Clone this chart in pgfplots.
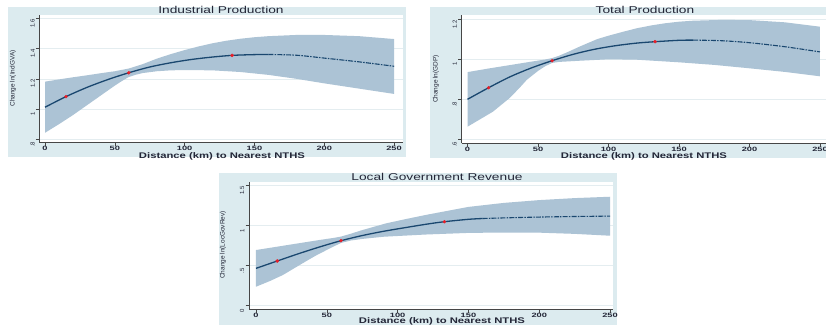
\documentclass[border=0pt]{standalone}
\usepackage{pgfplots}
\pgfplotsset{compat=1.18}
\usepackage{fontspec}
\setmainfont{Liberation Sans}
\newfontfamily\tickxfont{Liberation Sans}[FakeStretch=1.5]
\newfontfamily\titlefont{Liberation Sans}[FakeStretch=1.38]
\definecolor{bgc}{RGB}{220,235,239}
\definecolor{bandc}{RGB}{172,195,213}
\definecolor{navyc}{RGB}{26,71,111}
\definecolor{redc}{RGB}{232,30,40}
\definecolor{gridc}{RGB}{228,237,240}
\definecolor{axc}{RGB}{70,70,70}
\definecolor{txtc}{RGB}{35,38,55}
\pgfplotsset{
  statapanel/.style={
    scale only axis,
    anchor=south west,
    axis x line*=bottom, axis y line*=left,
    axis line style={axc, line width=0.8bp},
    tick align=outside,
    major tick length=3.5bp,
    tick style={axc, line width=0.6bp},
    xtick={0,50,100,150,200,250},
    xticklabels={0,50,100,150,200,250},
    xticklabel style={font=\tickxfont\fontsize{6.2}{6.5}\selectfont\bfseries, text=txtc, inner sep=0.3bp},
    yticklabel style={rotate=90, anchor=south, font=\fontsize{6}{7}\selectfont, text=txtc, inner sep=1bp, xshift=-5bp},
    minor tick num=0,
    ymajorgrids,
    grid style={gridc, line width=0.6bp},
    axis background/.style={fill=white},
  },
  bandplot/.style={fill=bandc, draw=none, forget plot},
  fitline/.style={navyc, line width=1.3bp, smooth, no markers},
  fitdash/.style={navyc, line width=1.1bp, smooth, no markers, dash pattern=on 5bp off 1.2bp on 1.5bp off 1.2bp},
  reddots/.style={only marks, mark=*, mark size=1.5bp, mark options={fill=redc, draw=redc}, redc},
}
\begin{document}
\begin{tikzpicture}
\path[use as bounding box] (0bp,-325bp) rectangle (826bp,0bp);
% backgrounds
\fill[bgc] (8bp,-157bp) rectangle (406bp,-7bp);
\fill[bgc] (430bp,-158bp) rectangle (840bp,-7bp);
\fill[bgc] (219bp,-330bp) rectangle (617bp,-173bp);

% ---------- Panel 1 ----------
\begin{axis}[statapanel,
  at={(39.5bp,-142bp)}, width=363.5bp, height=127bp,
  xmin=-3.94, xmax=256.4, ymin=0.782, ymax=1.622,
  ytick={0.8,1,1.2,1.4,1.6}, yticklabels={.8,1,1.2,1.4,1.6}]
\addplot[bandplot] coordinates {(0,1.181)(10,1.196)(20,1.21)(30,1.223)(40,1.237)(50,1.25)(60,1.268)(70,1.297)(80,1.333)(90,1.363)(100,1.39)(110,1.414)(120,1.435)(130,1.452)(140,1.465)(150,1.475)(160,1.482)(180,1.49)(200,1.49)(225,1.482)(250,1.463)
 (250,1.10)(225,1.135)(200,1.17)(180,1.20)(160,1.226)(140,1.245)(120,1.256)(100,1.258)(90,1.256)(80,1.25)(70,1.238)(65,1.227)(60,1.212)(55,1.185)(50,1.155)(40,1.09)(30,1.025)(20,0.96)(10,0.90)(0,0.843)} -- cycle;
\addplot[fitline] coordinates {(0,1.012)(15,1.082)(30,1.143)(45,1.195)(60,1.24)(75,1.278)(90,1.306)(105,1.328)(120,1.344)(134,1.355)(150,1.36)(160,1.361)};
\addplot[fitdash] coordinates {(160,1.361)(180,1.356)(200,1.337)(225,1.312)(250,1.283)};
\addplot[reddots] coordinates {(15,1.082)(60,1.24)(134,1.355)};
\end{axis}

% ---------- Panel 2 ----------
\begin{axis}[statapanel,
  at={(461.5bp,-143bp)}, width=367.5bp, height=128bp,
  xmin=-4.26, xmax=256.4, ymin=0.5815, ymax=1.2215,
  ytick={0.6,0.8,1,1.2}, yticklabels={.6,.8,1,1.2}]
\addplot[bandplot] coordinates {(0,0.936)(15,0.954)(30,0.971)(45,0.988)(55,0.999)(60,1.006)(65,1.018)(70,1.033)(80,1.065)(92,1.101)(100,1.118)(110,1.137)(120,1.155)(130,1.169)(140,1.18)(150,1.188)(160,1.193)(180,1.197)(200,1.196)(225,1.185)(250,1.163)
 (250,0.915)(225,0.937)(200,0.955)(175,0.972)(150,0.985)(120,0.998)(100,1.0)(80,0.993)(70,0.989)(65,0.987)(60,0.982)(55,0.965)(50,0.942)(42,0.897)(37,0.858)(30,0.807)(18,0.738)(0,0.663)} -- cycle;
\addplot[fitline] coordinates {(0,0.80)(15,0.858)(30,0.912)(45,0.956)(60,0.993)(75,1.025)(90,1.05)(105,1.068)(120,1.081)(133,1.088)(150,1.095)(160,1.096)};
\addplot[fitdash] coordinates {(160,1.096)(180,1.093)(200,1.083)(225,1.063)(250,1.037)};
\addplot[reddots] coordinates {(15,0.858)(60,0.993)(133,1.088)};
\end{axis}

% ---------- Panel 3 ----------
\begin{axis}[statapanel,
  at={(249bp,-309bp)}, width=364.3bp, height=127.3bp,
  xmin=-4.94, xmax=252.3, ymin=-0.041, ymax=1.55,
  ytick={0,0.5,1,1.5}, yticklabels={0,.5,1,1.5}]
\addplot[bandplot] coordinates {(0,0.696)(15,0.738)(30,0.78)(45,0.822)(55,0.848)(60,0.864)(67,0.9)(75,0.945)(92,1.03)(105,1.08)(120,1.135)(135,1.185)(150,1.235)(175,1.285)(200,1.32)(225,1.345)(250,1.362)
 (250,0.875)(225,0.898)(200,0.913)(175,0.915)(150,0.91)(120,0.89)(90,0.862)(75,0.835)(67,0.815)(60,0.785)(52,0.715)(43,0.634)(37,0.573)(30,0.5)(19,0.384)(10,0.31)(0,0.2375)} -- cycle;
\addplot[fitline] coordinates {(0,0.467)(15,0.559)(30,0.65)(45,0.735)(60,0.8125)(75,0.877)(90,0.93)(105,0.975)(120,1.018)(133,1.05)(150,1.08)(160,1.09)};
\addplot[fitdash] coordinates {(160,1.09)(180,1.10)(200,1.108)(225,1.115)(250,1.12)};
\addplot[reddots] coordinates {(15,0.559)(60,0.8125)(133,1.05)};
\end{axis}

% ---------- texts ----------
\node[text=txtc, font=\titlefont\fontsize{10}{11}\selectfont] at (221bp,-9.5bp) {Industrial Production};
\node[text=txtc, font=\titlefont\fontsize{10}{11}\selectfont] at (645bp,-9.5bp) {Total Production};
\node[text=txtc, font=\titlefont\fontsize{10}{11}\selectfont] at (437bp,-176.5bp) {Local Government Revenue};
\node[text=txtc, font=\titlefont\fontsize{8.2}{9}\selectfont\bfseries] at (222bp,-156.3bp) {Distance (km) to Nearest NTHS};
\node[text=txtc, font=\titlefont\fontsize{8.2}{9}\selectfont\bfseries] at (644bp,-156.3bp) {Distance (km) to Nearest NTHS};
\node[text=txtc, font=\titlefont\fontsize{8.2}{9}\selectfont\bfseries] at (442bp,-321.3bp) {Distance (km) to Nearest NTHS};
\node[text=txtc, rotate=90, font=\fontsize{6.5}{7}\selectfont] at (13bp,-78.5bp) {Change ln(IndGVA)};
\node[text=txtc, rotate=90, font=\fontsize{6.5}{7}\selectfont] at (436bp,-79bp) {Change ln(GDP)};
\node[text=txtc, rotate=90, font=\fontsize{6.5}{7}\selectfont] at (223bp,-245bp) {Change ln(LocGovRev)};
\end{tikzpicture}
\end{document}
